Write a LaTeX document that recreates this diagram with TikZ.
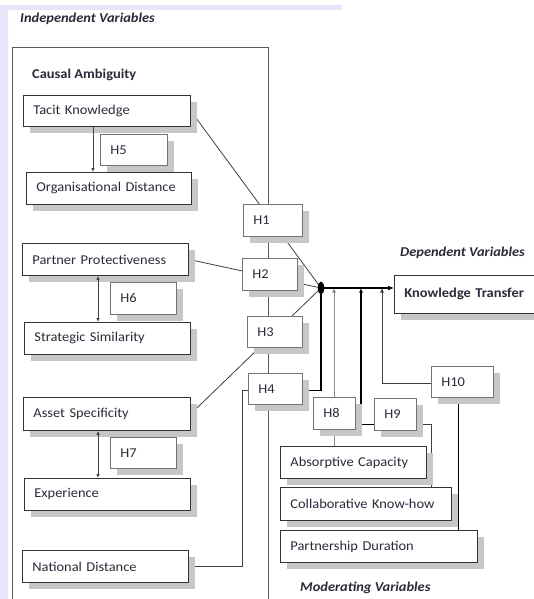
\documentclass[tikz,border=0pt]{standalone}
\usepackage{fontspec}
\setmainfont{Carlito}[FakeStretch=1.07]
\usetikzlibrary{shadows,arrows.meta,backgrounds}
\definecolor{lav}{HTML}{E6E6FA}
\definecolor{txt}{HTML}{2A2A3A}
\begin{document}
\begin{tikzpicture}[x=1pt,y=-1pt,
  bx/.style={draw=black!80, line width=0.8pt, fill=white, anchor=north west,
    inner xsep=10pt, inner ysep=0pt, align=left, text=txt,
    font=\fontsize{13.5}{15}\selectfont,
    drop shadow={shadow xshift=7pt, shadow yshift=-7pt, fill=black!22, opacity=1}},
  hb/.style={bx, draw=black!55, line width=0.6pt},
  ttl/.style={anchor=west, inner sep=0pt, text=txt, font=\fontsize{13.5}{15}\selectfont\bfseries\itshape},
  con/.style={draw=black!75, line width=0.8pt},
  arr/.style={con, -{Latex[length=4pt,width=3.5pt]}},
  darr/.style={con, {Latex[length=4pt,width=3.5pt]}-{Latex[length=4pt,width=3.5pt]}},
  marr/.style={-{Latex[length=4.5pt,width=4pt]}}
]
\useasboundingbox (0,0) rectangle (534,599);
% slide background remnant
\fill[lav] (0,5) -- (342,5) -- (342,10) -- (8,10) -- (8,599) -- (0,599) -- cycle;

\node[ttl] (indep) at (20,19) {Independent Variables};
\node[ttl, font=\fontsize{13.5}{15}\selectfont\bfseries] (causal) at (32,75) {Causal Ambiguity};

% left column boxes
\node[bx, minimum width=167pt, minimum height=31pt, text width=147pt] (tk) at (23,95) {Tacit Knowledge};
\node[hb, minimum width=67pt, minimum height=31pt, text width=47pt] (h5) at (100,134) {H5};
\node[bx, minimum width=165pt, minimum height=32pt, text width=145pt] (od) at (26,172) {Organisational Distance};
\node[bx, minimum width=166pt, minimum height=32pt, text width=146pt] (pp) at (22,243) {Partner Protectiveness};
\node[hb, minimum width=66pt, minimum height=32pt, text width=46pt] (h6) at (110,282) {H6};
\node[bx, minimum width=166pt, minimum height=32pt, text width=146pt] (ss) at (24,322) {Strategic Similarity};
\node[bx, minimum width=167pt, minimum height=33pt, text width=147pt] (as) at (23,397) {Asset Specificity};
\node[hb, minimum width=66pt, minimum height=31pt, text width=46pt] (h7) at (110,437) {H7};
\node[bx, minimum width=166pt, minimum height=32pt, text width=146pt] (ex) at (24,478) {Experience};
\node[bx, minimum width=166pt, minimum height=32pt, text width=146pt] (nd) at (22,550) {National Distance};

% hypothesis boxes
\node[hb, minimum width=59pt, minimum height=32pt, text width=39pt] (h1) at (243,204) {H1};
\node[hb, minimum width=55pt, minimum height=32pt, text width=35pt] (h2) at (242,258) {H2};
\node[hb, minimum width=55pt, minimum height=31pt, text width=35pt] (h3) at (247,316) {H3};
\node[hb, minimum width=54pt, minimum height=31pt, text width=34pt] (h4) at (248,373) {H4};

% dependent
\node[ttl] (dep) at (400,253) {Dependent Variables};
\node[bx, minimum width=150pt, minimum height=38pt, text width=130pt,
      font=\fontsize{13.5}{15}\selectfont\bfseries] (kt) at (394,275) {Knowledge Transfer};

% moderators
\node[hb, minimum width=42pt, minimum height=32pt, text width=22pt] (h8) at (313,397) {H8};
\node[hb, minimum width=42pt, minimum height=32pt, text width=22pt] (h9) at (374,398) {H9};
\node[hb, minimum width=62pt, minimum height=31pt, text width=42pt] (h10) at (431,366) {H10};
\node[bx, minimum width=146pt, minimum height=32pt, text width=126pt] (ac) at (280,446) {Absorptive Capacity};
\node[bx, minimum width=171pt, minimum height=33pt, text width=151pt] (ck) at (280,487) {Collaborative Know-how};
\node[bx, minimum width=197pt, minimum height=32pt, text width=177pt] (pd) at (280,530) {Partnership Duration};
\node[ttl] (modv) at (300,588) {Moderating Variables};

% junction
\coordinate (j) at (321,288);
\coordinate (m8) at (334,288);
\coordinate (m9) at (361,288);
\coordinate (m10) at (382,288);

\begin{scope}[on background layer]
  % outer frame
  \draw[draw=black!65, line width=1pt] (12,599) -- (12,48) -- (268,48) -- (268,599);
  % independent variables to junction
  \draw[con] (tk.east) -- (j);
  \draw[con] (pp.east) -- (j);
  \draw[con] (as.east) -- (j);
  \draw[con] (nd.east) -| ([xshift=-6pt,yshift=-2pt]h4.west) -- ([yshift=-2pt]h4.west);
  \draw[draw=black, line width=1.3pt] ([yshift=-2pt]h4.east) -| (j);
  % moderators
  \draw[draw=black!45, line width=0.7pt, marr] (h8.north -| m8) -- (m8);
  \draw[draw=black!45, line width=0.7pt] (h8.south -| m8) -- (ac.north -| m8);
  \draw[draw=black, line width=1.3pt, marr] ([yshift=-10pt]h9.west) -| (m9);
  \draw[con] ([yshift=-10pt]h9.east) -| ([xshift=-20pt]ck.north east);
  \draw[con, marr] ([yshift=-2pt]h10.west) -| (m10);
  \draw[draw=black, line width=1pt] ([xshift=-4pt]h10.south) -- ([xshift=-4pt]h10.south |- pd.north);
\end{scope}

% within-group arrows
\draw[arr] ([xshift=70pt]tk.south west) -- ([xshift=67pt]od.north west);
\draw[darr] ([xshift=76pt]pp.south west) -- ([xshift=74pt]ss.north west);
\draw[darr] ([xshift=75pt]as.south west) -- ([xshift=74pt]ex.north west);

% main path
\draw[draw=black, line width=1.5pt, -{Latex[length=6pt,width=5pt]}] (j) -- (j -| kt.west);
\fill[black] (j) ellipse (3.2pt and 6.5pt);
\end{tikzpicture}
\end{document}
